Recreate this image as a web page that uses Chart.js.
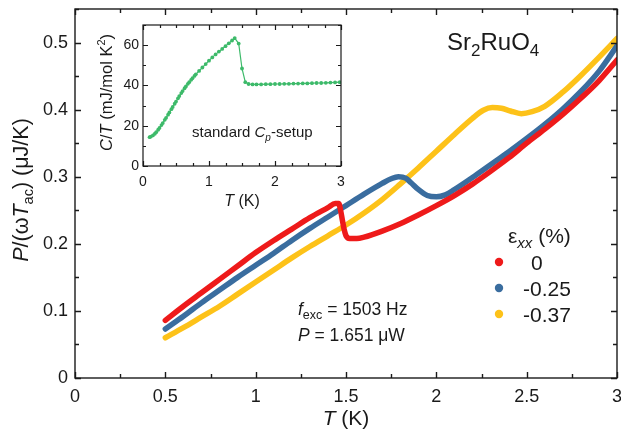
<!DOCTYPE html>
<html>
<head>
<meta charset="utf-8">
<script src="https://cdn.jsdelivr.net/npm/chart.js@4.4.1/dist/chart.umd.min.js"></script>
<style>
html,body{margin:0;padding:0;background:#fff;}
#wrap{position:relative;width:621px;height:432px;}
#main{position:absolute;left:0;top:0;}
#inset{position:absolute;left:90px;top:10px;}
</style>
</head>
<body>
<div id="wrap">
<canvas id="main" width="621" height="432"></canvas>
<canvas id="inset" width="260" height="205"></canvas>
</div>
<script>
// ---------- data ----------
const strainLabels = ['0', '-0.25', '-0.37'];

const redT = [0.5,0.6,0.7,0.8,0.9,1.0,1.1,1.2,1.3,1.4,1.44,1.46,1.47,1.48,1.49,1.5,1.52,1.56,1.6,1.7,1.8,1.9,2.0,2.1,2.2,2.3,2.4,2.5,2.6,2.7,2.8,2.9,3.0];
const redC = [0.086,0.107,0.127,0.147,0.167,0.187,0.205,0.222,0.239,0.254,0.260,0.260,0.250,0.235,0.221,0.212,0.208,0.208,0.210,0.219,0.230,0.243,0.257,0.272,0.289,0.308,0.328,0.350,0.371,0.393,0.417,0.443,0.474];

const blueT = [0.5,0.6,0.7,0.8,0.9,1.0,1.1,1.2,1.3,1.4,1.5,1.6,1.7,1.75,1.79,1.83,1.86,1.9,1.95,2.0,2.05,2.1,2.2,2.3,2.4,2.5,2.6,2.7,2.8,2.9,3.0];
const blueC = [0.073,0.092,0.112,0.131,0.150,0.168,0.186,0.205,0.223,0.240,0.257,0.274,0.290,0.297,0.300,0.298,0.291,0.281,0.272,0.270,0.273,0.281,0.299,0.318,0.337,0.357,0.378,0.401,0.427,0.457,0.495];

const yellowT = [0.5,0.6,0.7,0.8,0.9,1.0,1.1,1.2,1.3,1.4,1.5,1.6,1.7,1.8,1.9,2.0,2.1,2.2,2.26,2.31,2.36,2.41,2.47,2.53,2.6,2.7,2.8,2.9,3.0];
const yellowC = [0.060,0.075,0.091,0.107,0.125,0.143,0.161,0.179,0.196,0.212,0.228,0.246,0.266,0.289,0.313,0.338,0.363,0.387,0.399,0.403,0.402,0.398,0.394,0.397,0.405,0.426,0.451,0.478,0.506];

const insetT = [0.1,0.12,0.15,0.18,0.2,0.23,0.25,0.28,0.3,0.33,0.35,0.38,0.4,0.43,0.45,0.48,0.5,0.53,0.55,0.58,0.6,0.63,0.65,0.68,0.7,0.73,0.75,0.78,0.8,0.85,0.9,0.95,1.0,1.05,1.1,1.15,1.2,1.25,1.3,1.35,1.39,1.45,1.5,1.55,1.6,1.66,1.72,1.79,1.86,1.93,2.0,2.07,2.14,2.21,2.28,2.35,2.42,2.49,2.56,2.63,2.7,2.77,2.84,2.91,2.98];
const insetCT = [14.3,14.6,15.2,16.0,16.8,18.0,18.9,20.3,21.3,22.9,23.9,25.5,26.6,28.2,29.3,30.9,32.0,33.6,34.7,36.2,37.2,38.6,39.5,40.8,41.6,42.8,43.6,44.7,45.5,47.2,48.9,50.6,52.3,53.9,55.4,56.8,58.1,59.5,60.9,62.3,63.5,60.8,48.4,41.6,40.7,40.5,40.5,40.5,40.6,40.6,40.7,40.7,40.8,40.8,40.9,40.9,41.0,41.0,41.1,41.2,41.2,41.3,41.4,41.5,41.6];

const mainXTicks = [0, 0.5, 1, 1.5, 2, 2.5, 3];
const mainYTicks = [0, 0.1, 0.2, 0.3, 0.4, 0.5];
const insetXTicks = [0, 1, 2, 3];
const insetYTicks = [0, 20, 40, 60];

// ---------- helpers ----------
const FAM = '"Liberation Sans", Arial, Helvetica, sans-serif';
const INK = '#1a1a1a';
function pts(xs, ys){ return xs.map((x,i)=>({x:x, y:ys[i]})); }
function fnt(p){ return (p.i ? 'italic ' : '') + p.s + 'px ' + FAM; }
function rich(ctx, parts, x, y, align){
  let w = 0;
  parts.forEach(p=>{ ctx.font = fnt(p); w += ctx.measureText(p.t).width; });
  let cx = align === 'center' ? x - w/2 : (align === 'right' ? x - w : x);
  ctx.textAlign = 'left';
  ctx.textBaseline = 'alphabetic';
  parts.forEach(p=>{ ctx.font = fnt(p); ctx.fillText(p.t, cx, y + (p.dy||0)); cx += ctx.measureText(p.t).width; });
}
function drawFrameTicks(chart, xs, xMinor, ys, yMinor, majLen, minLen, lw){
  const ctx = chart.ctx, a = chart.chartArea, sx = chart.scales.x, sy = chart.scales.y;
  ctx.save();
  ctx.strokeStyle = INK; ctx.lineWidth = lw;
  ctx.beginPath();
  const xmin = sx.min, xmax = sx.max, ymin = sy.min, ymax = sy.max;
  for (let v = xmin; v <= xmax + 1e-9; v += xMinor){
    const isMaj = xs.some(t=>Math.abs(t-v)<1e-6);
    const L = isMaj ? majLen : minLen;
    const px = Math.round(sx.getPixelForValue(v)) + 0.5;
    ctx.moveTo(px, a.bottom); ctx.lineTo(px, a.bottom - L);
    ctx.moveTo(px, a.top); ctx.lineTo(px, a.top + L);
  }
  for (let v = ymin; v <= ymax + 1e-9; v += yMinor){
    const isMaj = ys.some(t=>Math.abs(t-v)<1e-6);
    const L = isMaj ? majLen : minLen;
    const py = Math.round(sy.getPixelForValue(v)) + 0.5;
    ctx.moveTo(a.left, py); ctx.lineTo(a.left + L, py);
    ctx.moveTo(a.right, py); ctx.lineTo(a.right - L, py);
  }
  ctx.stroke();
  ctx.strokeRect(a.left, a.top, a.right - a.left, a.bottom - a.top);
  ctx.restore();
}
const fmt = v => String(+(+v).toFixed(2));
const noPadX = (h) => s => { s.height = h; s.paddingLeft = 0; s.paddingRight = 0; };
const noPadY = (w) => s => { s.width = w; s.paddingTop = 0; s.paddingBottom = 0; };

// ---------- main chart ----------
const mainDecor = {
  id: 'mainDecor',
  afterDraw(chart){
    const ctx = chart.ctx;
    drawFrameTicks(chart, mainXTicks, 0.25, mainYTicks, 0.05, 6, 4, 1.4);
    ctx.save();
    ctx.fillStyle = INK;
    // x title
    rich(ctx, [{t:'T', s:21, i:1}, {t:' (K)', s:21}], 346, 425, 'center');
    // y title
    ctx.save();
    ctx.translate(28, 190);
    ctx.rotate(-Math.PI/2);
    rich(ctx, [{t:'P', s:21.5, i:1}, {t:'/(\u03c9', s:21.5}, {t:'T', s:21.5, i:1}, {t:'ac', s:14.5, dy:5}, {t:') (\u03bcJ/K)', s:21.5}], 0, 0, 'center');
    ctx.restore();
    // compound label
    rich(ctx, [{t:'Sr', s:24}, {t:'2', s:17, dy:6}, {t:'RuO', s:24}, {t:'4', s:17, dy:6}], 447, 50, 'left');
    // experimental parameters
    rich(ctx, [{t:'f', s:17.5, i:1}, {t:'exc', s:12.5, dy:4}, {t:' = 1503 Hz', s:17.5}], 298, 315, 'left');
    rich(ctx, [{t:'P', s:17.5, i:1}, {t:' = 1.651 \u03bcW', s:17.5}], 298, 341, 'left');
    // legend
    rich(ctx, [{t:'\u03b5', s:21}, {t:'xx', s:15, i:1, dy:5}, {t:' (%)', s:21}], 508, 243, 'left');
    const cols = chart.data.datasets.map(d=>d.borderColor);
    const ly = [262, 288, 314];
    const lx = [531, 523, 523];
    for (let i = 0; i < 3; i++){
      ctx.beginPath(); ctx.fillStyle = cols[i];
      ctx.arc(499, ly[i], 4.2, 0, Math.PI*2); ctx.fill();
      ctx.fillStyle = INK;
      rich(ctx, [{t:chart.data.datasets[i].label, s:21}], lx[i], ly[i] + 7.5, 'left');
    }
    ctx.restore();
  }
};

const lineDs = (label, xs, ys, color) => ({
  label: label, data: pts(xs, ys), borderColor: color, backgroundColor: color,
  showLine: true, borderWidth: 5.5, pointRadius: 0, cubicInterpolationMode: 'monotone',
  borderCapStyle: 'round', borderJoinStyle: 'round'
});

new Chart(document.getElementById('main'), {
  type: 'scatter',
  data: { datasets: [
    lineDs(strainLabels[0], redT, redC, '#ee1a1a'),
    lineDs(strainLabels[1], blueT, blueC, '#3a6d9f'),
    lineDs(strainLabels[2], yellowT, yellowC, '#fdc219')
  ]},
  options: {
    responsive: false, animation: false, devicePixelRatio: 1,
    layout: { padding: { top: 9, right: 4, left: 0, bottom: 0 } },
    plugins: { legend: { display: false }, tooltip: { enabled: false } },
    scales: {
      x: { type: 'linear', min: 0, max: 3,
           grid: { display: false, drawTicks: false }, border: { display: false },
           ticks: { stepSize: 0.5, includeBounds: false, padding: 8, color: INK, font: { family: FAM, size: 18 }, maxRotation: 0,
                    callback: v => mainXTicks.some(t=>Math.abs(t-v)<1e-6) ? fmt(v) : '' },
           afterFit: noPadX(54) },
      y: { type: 'linear', min: 0, max: 0.55,
           grid: { display: false, drawTicks: false }, border: { display: false },
           ticks: { stepSize: 0.1, includeBounds: false, padding: 7, color: INK, font: { family: FAM, size: 18 },
                    callback: v => mainYTicks.some(t=>Math.abs(t-v)<1e-6) ? fmt(v) : '' },
           afterFit: noPadY(75) }
    }
  },
  plugins: [mainDecor]
});

// ---------- inset chart ----------
const insetDecor = {
  id: 'insetDecor',
  beforeDraw(chart){
    const ctx = chart.ctx, a = chart.chartArea;
    ctx.save(); ctx.fillStyle = '#fff';
    ctx.fillRect(a.left, a.top, a.right - a.left, a.bottom - a.top);
    ctx.restore();
  },
  afterDraw(chart){
    const ctx = chart.ctx;
    drawFrameTicks(chart, insetXTicks, 0.25, insetYTicks, 10, 5, 3, 1.2);
    ctx.save();
    ctx.fillStyle = INK;
    rich(ctx, [{t:'T', s:16, i:1}, {t:' (K)', s:16}], 152, 196, 'center');
    ctx.save();
    ctx.translate(22, 82.5);
    ctx.rotate(-Math.PI/2);
    rich(ctx, [{t:'C', s:16.5, i:1}, {t:'/', s:16.5}, {t:'T', s:16.5, i:1}, {t:' (mJ/mol K', s:16.5}, {t:'2', s:11, dy:-7}, {t:')', s:16.5}], 0, 0, 'center');
    ctx.restore();
    rich(ctx, [{t:'standard ', s:15}, {t:'C', s:15, i:1}, {t:'p', s:10, i:1, dy:4}, {t:'-setup', s:15}], 102, 127, 'left');
    ctx.restore();
  }
};

new Chart(document.getElementById('inset'), {
  type: 'scatter',
  data: { datasets: [{
    label: 'standard Cp-setup', data: pts(insetT, insetCT),
    borderColor: '#3dba6a', backgroundColor: '#3dba6a',
    showLine: true, borderWidth: 1.2, pointRadius: 1.9, pointBorderWidth: 0, tension: 0
  }]},
  options: {
    responsive: false, animation: false, devicePixelRatio: 1,
    layout: { padding: { top: 15, right: 9, left: 0, bottom: 0 } },
    plugins: { legend: { display: false }, tooltip: { enabled: false } },
    scales: {
      x: { type: 'linear', min: 0, max: 3,
           grid: { display: false, drawTicks: false }, border: { display: false },
           ticks: { stepSize: 1, includeBounds: false, padding: 8, color: INK, font: { family: FAM, size: 14 }, maxRotation: 0,
                    callback: v => insetXTicks.some(t=>Math.abs(t-v)<1e-6) ? fmt(v) : '' },
           afterFit: noPadX(49) },
      y: { type: 'linear', min: 0, max: 70,
           grid: { display: false, drawTicks: false }, border: { display: false },
           ticks: { stepSize: 20, includeBounds: false, padding: 4, color: INK, font: { family: FAM, size: 14 },
                    callback: v => insetYTicks.some(t=>Math.abs(t-v)<1e-6) ? fmt(v) : '' },
           afterFit: noPadY(53) }
    }
  },
  plugins: [insetDecor]
});
</script>
</body>
</html>
